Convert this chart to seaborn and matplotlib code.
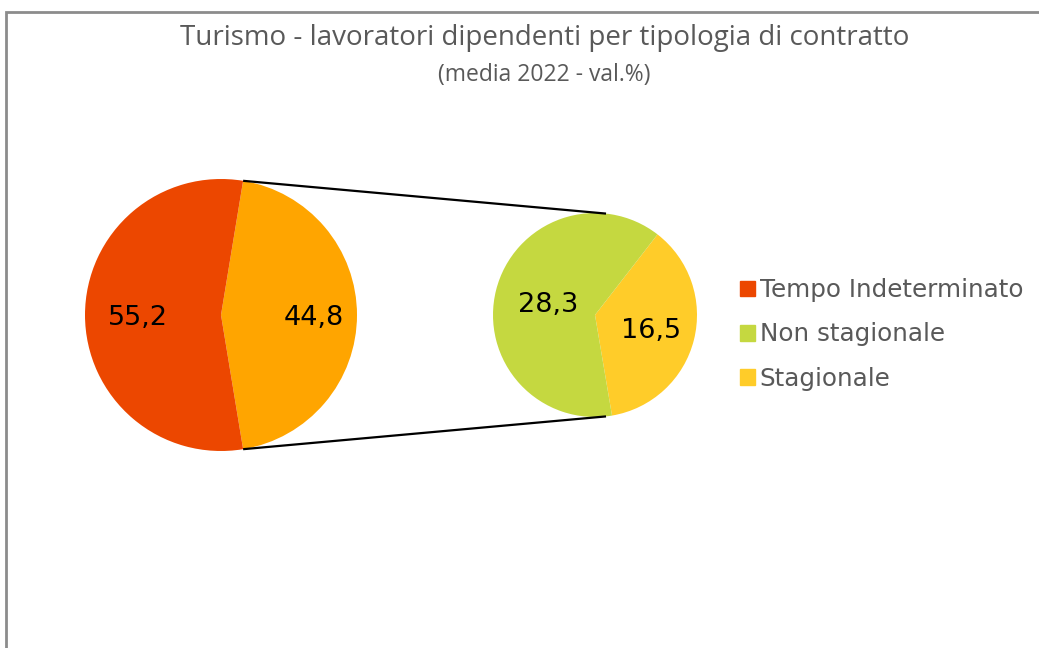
import matplotlib
matplotlib.use("Agg")
import matplotlib.pyplot as plt
import seaborn as sns
import numpy as np
from matplotlib.patches import Patch, Rectangle

# data
main_labels = ["Stagionale+Non stagionale", "Tempo Indeterminato"]
main_values = [44.8, 55.2]
sub_labels = ["Stagionale", "Non stagionale"]
sub_values = [16.5, 28.3]
legend_labels = ["Tempo Indeterminato", "Non stagionale", "Stagionale"]

c_ind = "#EC4700"
c_agg = "#FFA500"
c_non = "#C5D840"
c_sta = "#FFCC29"

sns.set_theme(style="white")
plt.rcParams['font.family'] = ['DejaVu Sans']

fig = plt.figure(figsize=(10.39, 6.48), dpi=100)
ax = fig.add_axes([0, 0, 1, 1])

fmt = lambda v: f"{v:.1f}".replace('.', ',')

# left pie: aggregated slice centred on the right side
half = main_values[0] / sum(main_values) * 360 / 2
w1, t1 = ax.pie(main_values, colors=[c_agg, c_ind], startangle=-half,
                center=(221, 333), radius=136, counterclock=True,
                wedgeprops=dict(linewidth=0))
for w, v, d in zip(w1, main_values, [0.68, 0.61]):
    a = np.deg2rad((w.theta1 + w.theta2) / 2)
    ax.text(221 + d * 136 * np.cos(a), 330 + d * 136 * np.sin(a), fmt(v),
            ha='center', va='center', fontsize=19.5, color='black')

# right pie: breakdown
w2, t2 = ax.pie(sub_values, colors=[c_sta, c_non], startangle=-80.4,
                center=(595, 333), radius=102, counterclock=True,
                wedgeprops=dict(linewidth=0))
for w, v, d in zip(w2, sub_values, [0.57, 0.47]):
    a = np.deg2rad((w.theta1 + w.theta2) / 2)
    ax.text(595 + d * 102 * np.cos(a), 331 + d * 102 * np.sin(a), fmt(v),
            ha='center', va='center', fontsize=19.5, color='black')

# connector lines
for sgn in [1, -1]:
    a1 = np.deg2rad(sgn * half)
    a2 = np.deg2rad(sgn * 83.8)
    ax.plot([221 + 136 * np.cos(a1), 595 + 102 * np.cos(a2)],
            [333 + 136 * np.sin(a1), 333 + 102 * np.sin(a2)],
            color='black', lw=1.6, solid_capstyle='butt')

ax.set_xlim(0, 1039)
ax.set_ylim(0, 648)
ax.set_aspect('equal')
ax.axis('off')

# legend
handles = [Patch(color=c) for c in [c_ind, c_non, c_sta]]
leg = ax.legend(handles, legend_labels, loc='upper left',
                bbox_to_anchor=(740 / 1039, 1 - 278 / 648), frameon=False,
                fontsize=17.7, handlelength=0.6, handleheight=0.6,
                handletextpad=0.2, labelspacing=0.83, borderpad=0,
                borderaxespad=0)
for t in leg.get_texts():
    t.set_color('#595959')

# titles
fig.text(545 / 1039, 1 - 38 / 648, "Turismo - lavoratori dipendenti per tipologia di contratto",
         ha='center', va='center', fontsize=20, color='#595959', family='Open Sans')
fig.text(544 / 1039, 1 - 75 / 648, "(media 2022 - val.%)",
         ha='center', va='center', fontsize=16.5, color='#595959', family='Open Sans')

# outer frame
fig.patches.append(Rectangle((6 / 1039, -0.1), 1.2, 1.1 - 12 / 648,
                             transform=fig.transFigure, fill=False,
                             edgecolor='#8C8C8C', lw=2))

fig.savefig("out.png", dpi=100)
